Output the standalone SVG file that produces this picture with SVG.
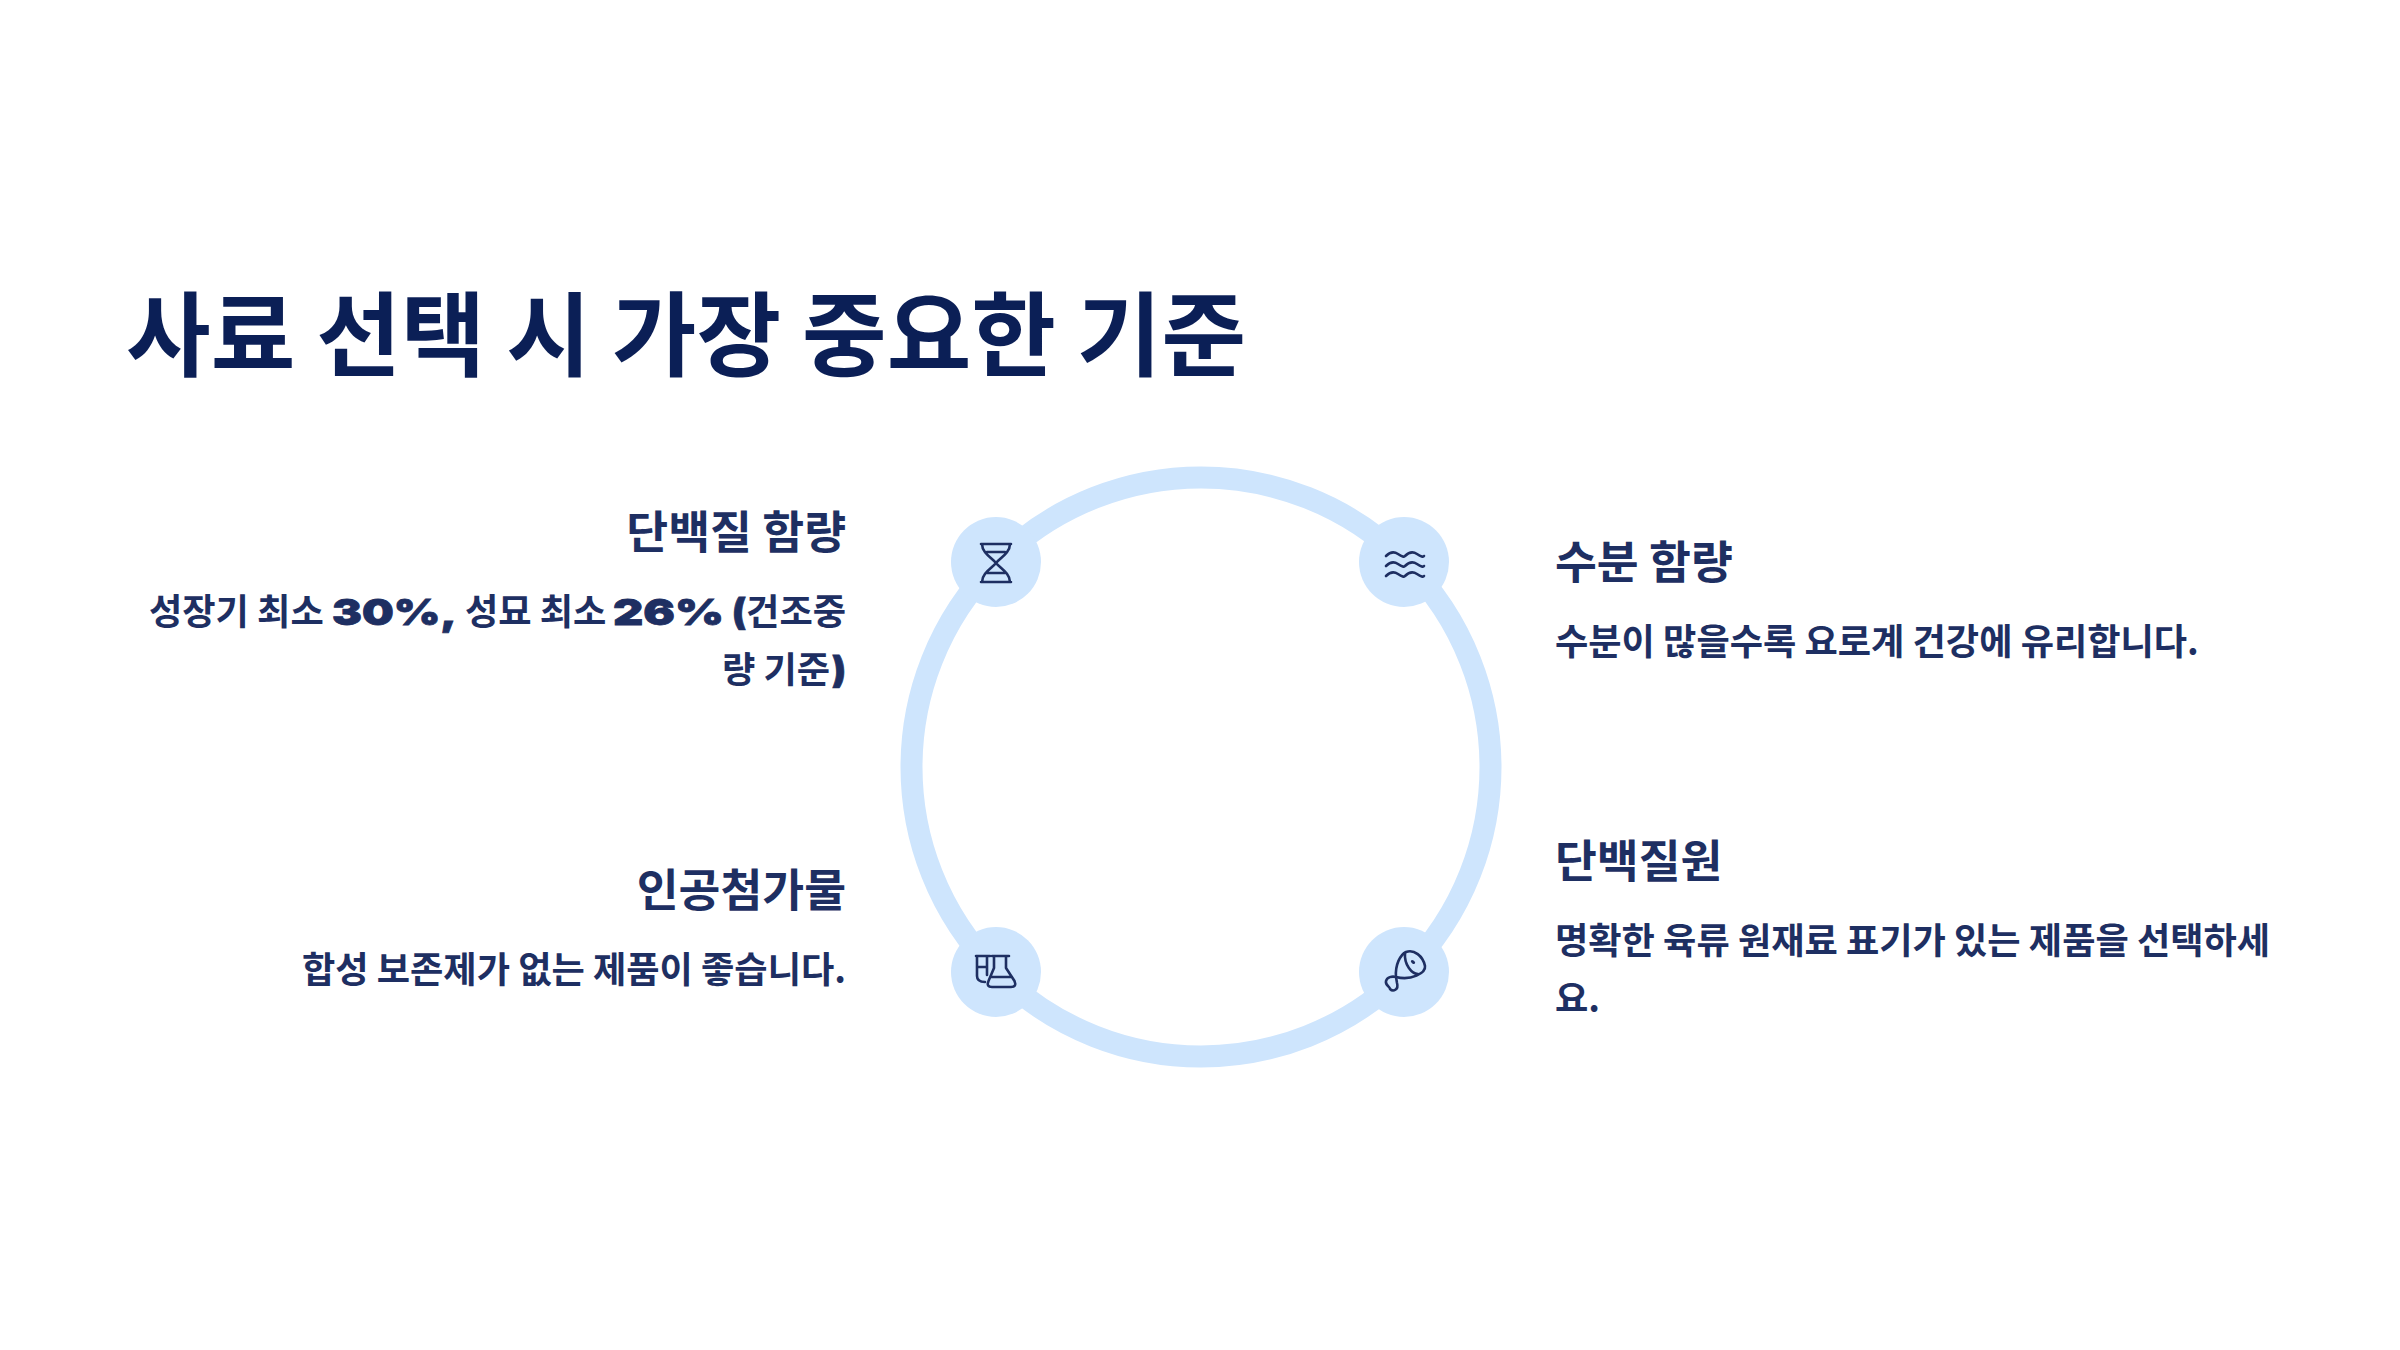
<svg xmlns="http://www.w3.org/2000/svg" width="2400" height="1350" viewBox="0 0 2400 1350">
<style>
text{font-family:"Noto Sans CJK KR","Noto Sans",sans-serif;font-weight:700;fill:#1e2f62}
.title{font-size:92px;fill:#0b1f56}
.h{font-size:45.500px}
.b{font-size:36.200px}
.r{text-anchor:end}
.lat{font-family:Inter,"Liberation Sans",sans-serif;font-weight:900;stroke:#1e2f62;stroke-width:.8}
.ring{fill:none;stroke:#cee5fd;stroke-width:22}
.node{fill:#cee5fd}
.ic{fill:none;stroke:#1e2f62;stroke-width:2.6;stroke-linecap:round;stroke-linejoin:round}
</style>
<rect width="2400" height="1350" fill="#fff"/>
<text class="title" x="126" y="369">사료 선택 시 가장 중요한 기준</text>
<g id="connectors">
<path class="ring" d="M1201 477.500A289.500 289.500 0 0 1 1490.500 767"/>
<path class="ring" d="M1490.500 767A289.500 289.500 0 0 1 1201 1056.500"/>
<path class="ring" d="M1201 1056.500A289.500 289.500 0 0 1 911.500 767"/>
<path class="ring" d="M911.500 767A289.500 289.500 0 0 1 1201 477.500"/>
</g>
<g id="node-protein">
<circle class="node" cx="996" cy="562" r="45"/>
<path class="ic" d="M981 544H1011M981 582H1011M982 544C982 553 992 558 996 563C1000 568 1010 573 1010 582M1010 544C1010 553 1000 558 996 563C992 568 982 573 982 582M987 552H1005M987 573H1005"/>
<text class="h r" x="846" y="549">단백질 함량</text>
<text class="b" x="149" y="625">성장기 최소</text>
<text class="b lat" x="332" y="625" textLength="125" lengthAdjust="spacingAndGlyphs">30%,</text>
<text class="b" x="465" y="625">성묘 최소</text>
<text class="b lat" x="613" y="625" textLength="111" lengthAdjust="spacingAndGlyphs">26%</text>
<text class="b lat" x="732" y="625">(</text>
<text class="b r" x="846" y="625">건조중</text>
<text class="b" x="722" y="683">량 기준</text>
<text class="b lat" x="832" y="683">)</text>
</g>
<g id="node-water">
<circle class="node" cx="1404" cy="562" r="45"/>
<path class="ic" d="M1386 556Q1392 550 1398 554T1405 556Q1411 550 1417 554T1424 556M1386 566Q1392 560 1398 564T1405 566Q1411 560 1417 564T1424 566M1386 576Q1392 570 1398 574T1405 576Q1411 570 1417 574T1424 576"/>
<text class="h" x="1555" y="579">수분 함량</text>
<text class="b" x="1555" y="655">수분이 많을수록 요로계 건강에 유리합니다.</text>
</g>
<g id="node-additive">
<circle class="node" cx="996" cy="972" r="45"/>
<path class="ic" d="M976 956H990M977 956V976Q977 982 985 982M987 956V975M977 967H987M992 956H1009M994 956V968L988.500 981Q986 987 992 987H1011Q1017 987 1014.500 981L1006 968V956M992 977H1011"/>
<text class="h r" x="846" y="907">인공첨가물</text>
<text class="b r" x="846" y="983">합성 보존제가 없는 제품이 좋습니다.</text>
</g>
<g id="node-source">
<circle class="node" cx="1404" cy="972" r="45"/>
<path class="ic" d="M1396 977C1395 965 1400 955 1406 952C1414 949 1423 956 1425 966C1426 973 1411 981 1396 977Z"/>
<path class="ic" d="M1405 953C1404 965 1412 974 1418 974M1396 977L1397 983C1399 990 1393 992 1390 989C1390 986 1385 986 1386 981C1387 977 1392 976 1396 977Z"/>
<ellipse cx="1413" cy="962" rx="2.500" ry="1.500" transform="rotate(40 1413 962)" fill="#1e2f62"/>
<text class="h" x="1555" y="878">단백질원</text>
<text class="b" x="1555" y="954">명확한 육류 원재료 표기가 있는 제품을 선택하세</text>
<text class="b" x="1555" y="1012">요.</text>
</g>
</svg>
